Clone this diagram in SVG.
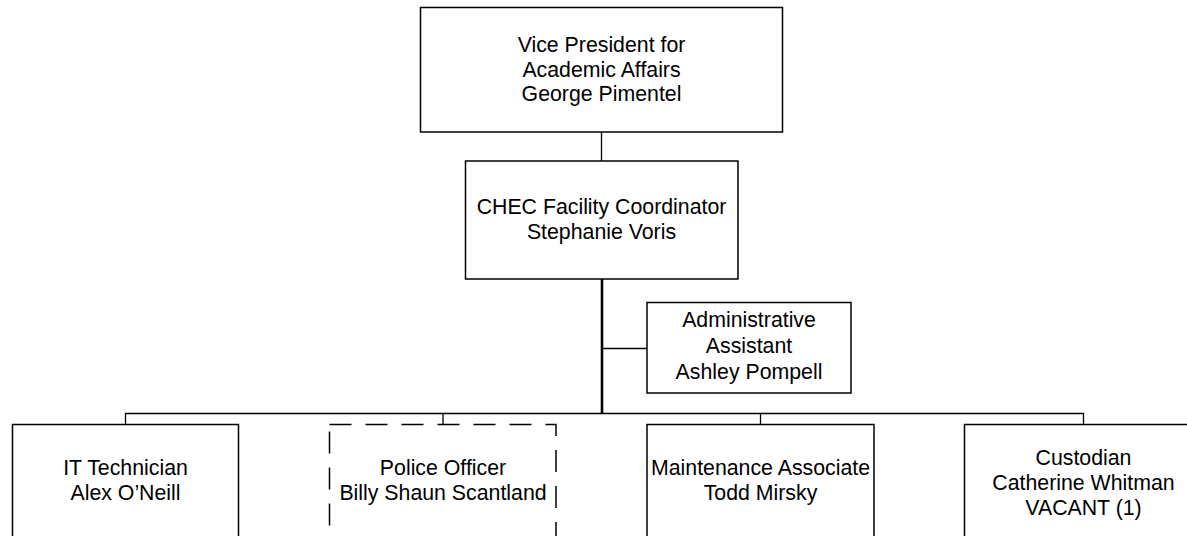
<svg xmlns="http://www.w3.org/2000/svg" width="1187" height="536" viewBox="0 0 1187 536">
<style>
.box{fill:#fff;stroke:#000;stroke-width:1.5}
.dash{fill:#fff;stroke:#000;stroke-width:1.5;stroke-dasharray:22 14}
.ln{fill:none;stroke:#000;stroke-width:1.3}
.thick{fill:none;stroke:#000;stroke-width:2.6}
text{font-family:"Liberation Sans",Arial,sans-serif;font-size:21.3px;fill:#000;text-anchor:middle}
</style>
<rect width="1187" height="536" fill="#fff"/>
<g id="connectors">
<line class="ln" x1="601.5" y1="132" x2="601.5" y2="161"/>
<line class="thick" x1="602" y1="279" x2="602" y2="414"/>
<line class="ln" x1="602" y1="348.5" x2="647" y2="348.5"/>
<polyline class="ln" points="125.5,424 125.5,413.5 1083.5,413.5 1083.5,424"/>
<line class="ln" x1="443" y1="413.5" x2="443" y2="424"/>
<line class="ln" x1="760.5" y1="413.5" x2="760.5" y2="424"/>
</g>
<g id="vp">
<rect class="box" x="420.5" y="7.5" width="362" height="124.5"/>
<text x="601.5" y="52.3">Vice President for</text>
<text x="601.5" y="76.8">Academic Affairs</text>
<text x="601.5" y="101.3">George Pimentel</text>
</g>
<g id="chec">
<rect class="box" x="465.5" y="161" width="272.5" height="118"/>
<text x="601.5" y="214">CHEC Facility Coordinator</text>
<text x="601.5" y="238.5">Stephanie Voris</text>
</g>
<g id="admin">
<rect class="box" x="647" y="302.5" width="204" height="90.5"/>
<text x="749" y="327">Administrative</text>
<text x="749" y="352.5">Assistant</text>
<text x="749" y="378.5">Ashley Pompell</text>
</g>
<g id="it">
<rect class="box" x="12.5" y="424.5" width="226" height="130"/>
<text x="125.5" y="475">IT Technician</text>
<text x="125.5" y="500">Alex O’Neill</text>
</g>
<g id="police">
<rect class="dash" x="329.5" y="424.5" width="226.5" height="130"/>
<text x="443" y="475">Police Officer</text>
<text x="443" y="500">Billy Shaun Scantland</text>
</g>
<g id="maint">
<rect class="box" x="647" y="424.5" width="227" height="130"/>
<text x="760.5" y="475">Maintenance Associate</text>
<text x="760.5" y="500">Todd Mirsky</text>
</g>
<g id="custodian">
<rect class="box" x="964.5" y="424.5" width="238" height="130"/>
<text x="1083.5" y="465">Custodian</text>
<text x="1083.5" y="490">Catherine Whitman</text>
<text x="1083.5" y="515">VACANT (1)</text>
</g>
</svg>
